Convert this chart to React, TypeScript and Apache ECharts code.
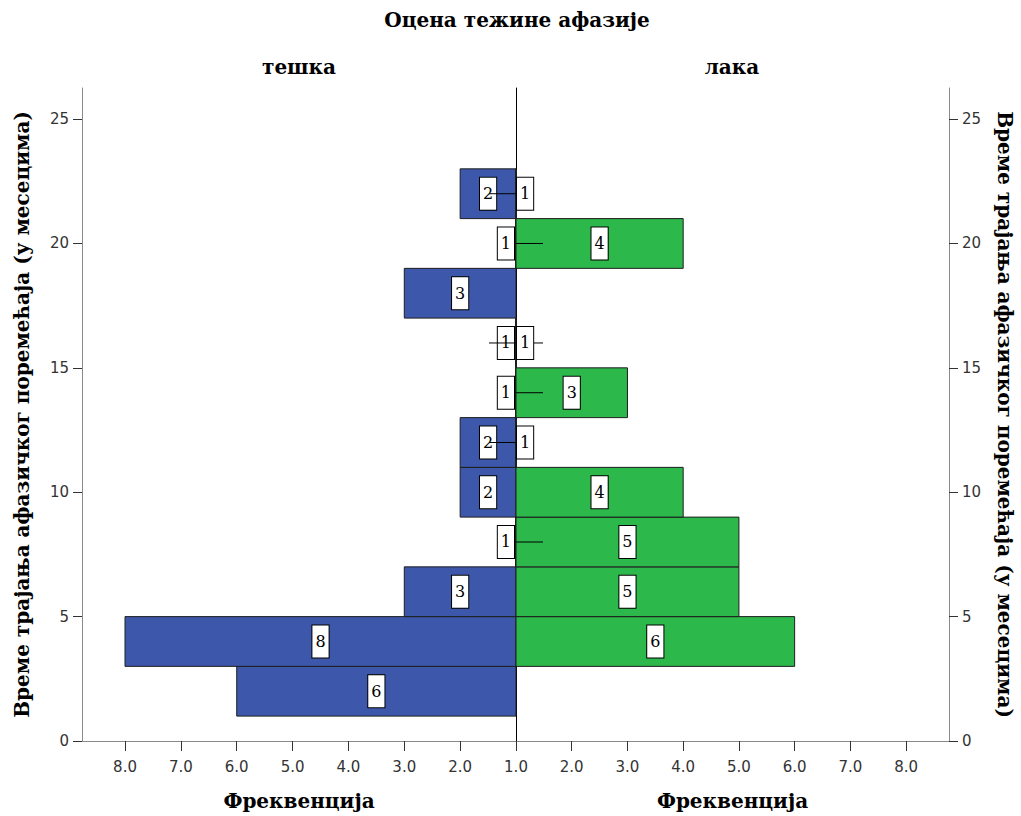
import React, { useEffect, useRef } from "react";
import * as echarts from "echarts";

// Bins of "Време трајања афазичког поремећаја (у месецима)", width 2
const binStarts = [1, 3, 5, 7, 9, 11, 13, 15, 17, 19, 21];
const binWidth = 2;
// тешка (severe) frequencies
const severeCounts = [6, 8, 3, 1, 2, 2, 1, 1, 3, 1, 2];
// лака (mild) frequencies (0 = no bar)
const mildCounts = [0, 6, 5, 5, 4, 1, 3, 1, 0, 4, 1];

const leftFreqTicks = [2, 3, 4, 5, 6, 7, 8];
const rightFreqTicks = [1, 2, 3, 4, 5, 6, 7, 8];
const monthTicks = [0, 5, 10, 15, 20, 25];

const title = "Оцена тежине афазије";
const leftPanel = "тешка";
const rightPanel = "лака";
const xName = "Фреквенција";
const yName = "Време трајања афазичког поремећаја (у месецима)";

const BLUE = "#3D58AB";
const GREEN = "#2DB84B";
const SERIF = "'DejaVu Serif', serif";
const SANS = "'DejaVu Sans', sans-serif";

const build = (counts: number[]) =>
  binStarts
    .map((s, i) => [s, s + binWidth, counts[i]])
    .filter((d) => d[2] > 0);

const barItem = (fill: string) => (params: any, api: any) => {
  const start = api.value(0);
  const end = api.value(1);
  const v = api.value(2);
  const p0 = api.coord([1, end]);
  const p1 = api.coord([v, start]);
  const x = Math.min(p0[0], p1[0]);
  const w = Math.abs(p1[0] - p0[0]);
  return {
    type: "rect",
    shape: { x, y: p0[1], width: w, height: p1[1] - p0[1] },
    style: { fill, stroke: "#1e1e1e", lineWidth: w === 0 ? 2 : 1 },
  };
};

const decoItem = (side: "left" | "right") => (params: any, api: any) => {
  const start = api.value(0);
  const end = api.value(1);
  const v = api.value(2);
  const mid = (start + end) / 2;
  const c = api.coord([1, mid]);
  const children: any[] = [];
  let tx: number;
  let align: string;
  if (v === 1) {
    children.push({
      type: "line",
      shape: { x1: c[0], y1: c[1], x2: c[0] + (side === "left" ? 27 : -27), y2: c[1] },
      style: { stroke: "#000", lineWidth: 1 },
    });
    tx = c[0] + (side === "left" ? -2 : 1);
    align = side === "left" ? "right" : "left";
  } else {
    tx = api.coord([(1 + v) / 2, mid])[0];
    align = "center";
  }
  children.push({
    type: "text",
    x: tx,
    y: c[1],
    style: {
      text: String(v),
      align,
      verticalAlign: "middle",
      fontFamily: SERIF,
      fontSize: 16,
      lineHeight: 20,
      fill: "#000",
      backgroundColor: "#fff",
      borderColor: "#000",
      borderWidth: 1,
      padding: [6, 3],
    },
  });
  return { type: "group", children };
};

export default function App() {
  const ref = useRef<HTMLDivElement>(null);
  useEffect(() => {
    if (!ref.current) return;
    const chart = echarts.init(ref.current, null, { renderer: "svg" });
    const axisGray = "#8a8a8a";
    const xCommon = (ticks: number[], inverse: boolean, gridIndex: number) => ({
      gridIndex,
      type: "value",
      min: 1,
      max: 8.77,
      inverse,
      axisLine: { show: true, onZero: false, lineStyle: { color: axisGray, width: 1 } },
      axisTick: { show: true, customValues: ticks, length: 10, lineStyle: { color: "#333" } },
      axisLabel: {
        customValues: ticks,
        formatter: (v: number) => v.toFixed(1),
        margin: 18,
        fontFamily: SANS,
        fontSize: 15,
        color: "#333",
      },
      splitLine: { show: false },
      name: xName,
      nameLocation: "middle",
      nameGap: 50,
      nameTextStyle: { fontFamily: SERIF, fontWeight: "bold", fontSize: 20, color: "#000" },
    });
    const yCommon = (gridIndex: number, position: string) => ({
      gridIndex,
      type: "value",
      min: 0,
      max: 26.25,
      position,
      axisLine: { show: true, onZero: false, lineStyle: { color: axisGray, width: 1 } },
      axisTick: { show: true, customValues: monthTicks, length: 9, lineStyle: { color: "#333" } },
      axisLabel: {
        customValues: monthTicks,
        margin: 13,
        fontFamily: SANS,
        fontSize: 15,
        color: "#333",
      },
      splitLine: { show: false },
      name: yName,
      nameLocation: "middle",
      nameGap: position === "left" ? 50 : 46,
      nameRotate: position === "left" ? 90 : -90,
      nameTextStyle: { fontFamily: SERIF, fontWeight: "bold", fontSize: 20, color: "#000" },
    });
    chart.setOption({
      animation: false,
      backgroundColor: "#fff",
      grid: [
        { left: 82, right: 1021 - 516, top: 88, bottom: 75 },
        { left: 516, right: 72, top: 88, bottom: 75 },
      ],
      xAxis: [xCommon(leftFreqTicks, true, 0), xCommon(rightFreqTicks, false, 1)],
      yAxis: [
        yCommon(0, "left"),
        yCommon(1, "right"),
        {
          gridIndex: 1,
          type: "value",
          min: 0,
          max: 26.25,
          position: "left",
          axisLine: { show: true, onZero: false, lineStyle: { color: "#000", width: 1 } },
          axisTick: { show: false },
          axisLabel: { show: false },
          splitLine: { show: false },
        },
      ],
      graphic: [
        {
          type: "text",
          x: 517,
          y: 20,
          style: { text: title, align: "center", verticalAlign: "middle", fontFamily: SERIF, fontWeight: "bold", fontSize: 20, fill: "#000" },
        },
        {
          type: "text",
          x: 299,
          y: 67,
          style: { text: leftPanel, align: "center", verticalAlign: "middle", fontFamily: SERIF, fontWeight: "bold", fontSize: 20, fill: "#000" },
        },
        {
          type: "text",
          x: 732,
          y: 67,
          style: { text: rightPanel, align: "center", verticalAlign: "middle", fontFamily: SERIF, fontWeight: "bold", fontSize: 20, fill: "#000" },
        },
      ],
      series: [
        {
          type: "custom",
          name: leftPanel,
          xAxisIndex: 0,
          yAxisIndex: 0,
          data: build(severeCounts),
          renderItem: barItem(BLUE),
          z: 2,
        },
        {
          type: "custom",
          name: rightPanel,
          xAxisIndex: 1,
          yAxisIndex: 1,
          data: build(mildCounts),
          renderItem: barItem(GREEN),
          z: 2,
        },
        {
          type: "custom",
          xAxisIndex: 0,
          yAxisIndex: 0,
          data: build(severeCounts),
          renderItem: decoItem("left"),
          z: 4,
        },
        {
          type: "custom",
          xAxisIndex: 1,
          yAxisIndex: 1,
          data: build(mildCounts),
          renderItem: decoItem("right"),
          z: 5,
        },
      ],
    });
    return () => chart.dispose();
  }, []);
  return (
    <div
      ref={ref}
      style={{ position: "fixed", left: 0, top: 0, width: 1021, height: 816 }}
    />
  );
}
